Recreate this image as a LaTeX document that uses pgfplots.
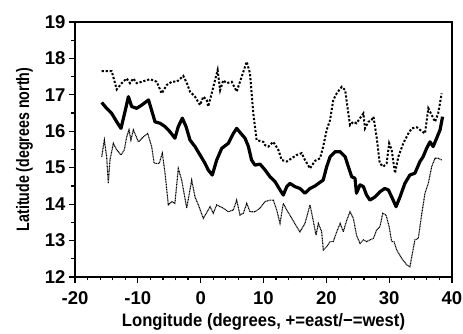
\documentclass[border=0pt]{standalone}
\usepackage{fontspec}
\setmainfont{Liberation Sans}
\usepackage{graphicx}
\usepackage{pgfplots}
\pgfplotsset{compat=1.18}
\begin{document}
\begin{tikzpicture}
\begin{axis}[
  width=377pt, height=255pt, scale only axis,
  xmin=-20, xmax=40, ymin=12, ymax=19,
  xtick={-20,-10,0,10,20,30,40},
  ytick={12,13,14,15,16,17,18,19},
  minor x tick num=4, minor y tick num=1,
  xtick pos=bottom, ytick pos=left,
  tick align=outside,
  major tick length=6pt, minor tick length=3.5pt,
  every tick/.style={black, line width=1.2pt},
  axis line style={line width=1.2pt},
  /pgf/number format/assume math mode=true,
  ticklabel style={font=\fontsize{18.5}{20}\selectfont\bfseries},
  xticklabel style={yshift=-4.7pt},
  label style={font=\fontsize{18}{20}\selectfont\bfseries},
  xlabel={\scalebox{0.925}[1]{Longitude (degrees, +=east/\textminus=west)}},
  ylabel={\scalebox{0.79}[1]{Latitude (degrees north)}},
  xlabel style={yshift=-2.5pt},
  ylabel style={yshift=5pt},
]
% upper dotted
\addplot[black, line width=2pt, dash pattern=on 2.2pt off 1.8pt] coordinates {
(-15.75,17.65) (-14.16,17.65) (-13.36,17.15) (-12.57,17.32) (-11.77,17.45) (-11.25,17.32)
(-10.72,17.45) (-10.18,17.32) (-9.38,17.36) (-8.59,17.4) (-8.06,17.43) (-7.0,17.36)
(-6.2,17.04) (-5.4,17.27) (-4.6,17.36) (-3.8,17.36) (-2.76,17.52) (-2.2,17.32)
(-1.7,17.09) (-0.9,16.95) (-0.1,16.72) (0.42,16.95) (0.96,16.86) (1.2,16.68)
(1.76,17.04) (2.28,17.4) (2.7,17.68) (3.1,17.13) (3.6,17.4) (4.14,17.32)
(4.94,17.36) (5.73,17.09) (6.53,17.5) (7.33,17.91) (7.85,17.59) (8.38,16.49)
(8.9,15.76) (9.97,15.71) (10.24,15.62) (10.77,15.58) (11.56,15.71) (12.36,15.49)
(12.9,15.21) (13.7,15.17) (14.5,15.26) (15.28,15.35) (16.08,15.4) (16.6,15.21)
(17.4,14.98) (18.2,15.19) (19.0,15.26) (19.5,15.58) (20.06,16.04) (20.6,16.31)
(21.1,16.86) (21.65,17.04) (22.45,17.22) (23.0,17.13) (23.5,16.49) (23.77,16.17)
(24.3,16.26) (24.8,16.22) (25.36,16.36) (25.9,16.49) (26.15,16.08) (26.7,16.26)
(27.2,16.31) (27.5,16.4) (28.0,15.85) (28.5,15.12) (29.07,15.03) (29.6,15.12)
(30.0,15.67) (30.4,15.49) (30.93,14.85) (31.46,15.3) (32.25,15.67) (33.05,15.94)
(33.6,16.08) (34.4,16.11) (34.9,16.04) (35.7,15.94) (36.23,16.63) (36.77,16.45)
(37.3,16.26) (37.8,16.49) (38.36,17.04)
};
% thick middle
\addplot[black, line width=3.2pt, line join=round] coordinates {
(-15.75,16.79) (-14.96,16.63) (-14.16,16.49) (-13.36,16.26) (-12.68,16.08) (-12.04,16.54)
(-11.5,16.95) (-10.98,16.68) (-10.18,16.63) (-9.38,16.72) (-8.3,16.86) (-7.5,16.4)
(-7.27,16.26) (-6.47,16.22) (-5.67,16.13) (-4.9,15.99) (-4.1,15.81) (-3.56,16.13)
(-2.92,16.36) (-2.33,16.13) (-1.7,15.76) (-0.9,15.58) (-0.1,15.35) (0.69,15.12)
(1.2,14.94) (1.85,14.8) (2.55,15.21) (3.35,15.53) (4.4,15.67) (5.2,15.94)
(5.73,16.08) (6.4,15.94) (7.06,15.81) (7.6,15.58) (8.1,15.21) (8.65,15.07)
(9.44,15.1) (10.24,14.94) (11.04,14.75) (11.83,14.62) (12.63,14.39) (13.15,14.25)
(13.7,14.48) (14.2,14.57) (15.0,14.48) (15.8,14.43) (16.6,14.3) (17.4,14.43)
(18.2,14.5) (19.0,14.6) (19.5,14.66) (20.06,15.03) (20.6,15.3) (21.4,15.44)
(22.2,15.44) (23.0,15.3) (23.5,15.03) (24.04,14.75) (24.56,14.71) (24.8,14.3)
(25.36,14.53) (25.9,14.48) (26.4,14.25) (26.95,14.11) (27.75,14.2) (28.54,14.34)
(29.3,14.43) (29.87,14.39) (30.4,14.2) (31.1,13.93) (31.73,14.2) (32.5,14.57)
(33.3,14.8) (34.1,14.85) (34.9,15.17) (35.4,15.3) (35.96,15.53) (36.5,15.71)
(37.0,15.58) (37.56,15.81) (38.1,16.04) (38.5,16.4)
};
% lower dotted
\addplot[black, line width=1.1pt, dash pattern=on 1pt off 0.6pt] coordinates {
(-15.75,15.3) (-15.33,15.76) (-14.96,15.3) (-14.7,14.57) (-14.43,15.21) (-13.9,15.67)
(-13.36,15.49) (-12.68,15.35) (-12.15,15.49) (-11.77,15.85) (-11.4,16.04) (-11.1,15.76)
(-10.72,16.04) (-9.9,15.71) (-9.1,15.85) (-8.43,15.94) (-7.8,15.58) (-7.4,15.12)
(-6.6,15.12) (-6.1,15.4) (-5.67,14.85) (-5.15,13.98) (-4.6,14.07) (-4.1,14.02)
(-3.56,14.98) (-3.02,14.66) (-2.22,13.89) (-1.43,14.66) (-0.9,14.2) (-0.37,13.98)
(0.42,13.61) (1.2,13.84) (1.5,13.93) (2.0,13.75) (2.55,13.98) (3.1,13.93)
(3.6,13.89) (4.4,13.79) (5.2,13.84) (5.73,14.11) (6.26,13.7) (6.8,13.75)
(7.33,14.02) (7.85,13.79) (8.65,13.79) (9.44,13.89) (10.24,14.07) (11.04,14.11)
(11.56,14.11) (12.1,13.84) (12.63,13.47) (13.15,14.02) (13.7,13.84) (14.5,13.61)
(15.28,13.38) (15.8,13.24) (16.6,13.47) (17.4,13.98) (17.9,13.56) (18.36,13.15)
(18.73,13.47) (19.26,13.24) (19.52,12.74) (20.06,12.83) (20.6,12.97) (21.1,12.97)
(21.65,13.24) (22.2,13.47) (22.7,13.24) (23.25,13.56) (23.77,13.79) (24.3,13.61)
(24.8,13.15) (25.36,12.92) (25.9,13.02) (26.4,12.97) (26.95,13.02) (27.5,13.06)
(28.0,13.29) (28.54,13.38) (28.97,13.75) (29.5,13.7) (30.0,13.38) (30.4,12.97)
(30.77,12.97) (31.2,12.74) (32.0,12.51) (32.8,12.33) (33.3,12.28) (33.6,12.56)
(34.1,13.02) (34.64,13.06) (35.2,13.75) (35.7,14.3) (36.23,14.57) (36.77,15.03)
(37.3,15.26) (37.8,15.26) (38.36,15.21)
};
\coordinate (ll) at (rel axis cs:0,0);
\coordinate (ur) at (rel axis cs:1,1);
\end{axis}
\pgfresetboundingbox
\path ([shift={(-75pt,-57pt)}]ll) rectangle ([shift={(11pt,22pt)}]ur);
\end{tikzpicture}
\end{document}
